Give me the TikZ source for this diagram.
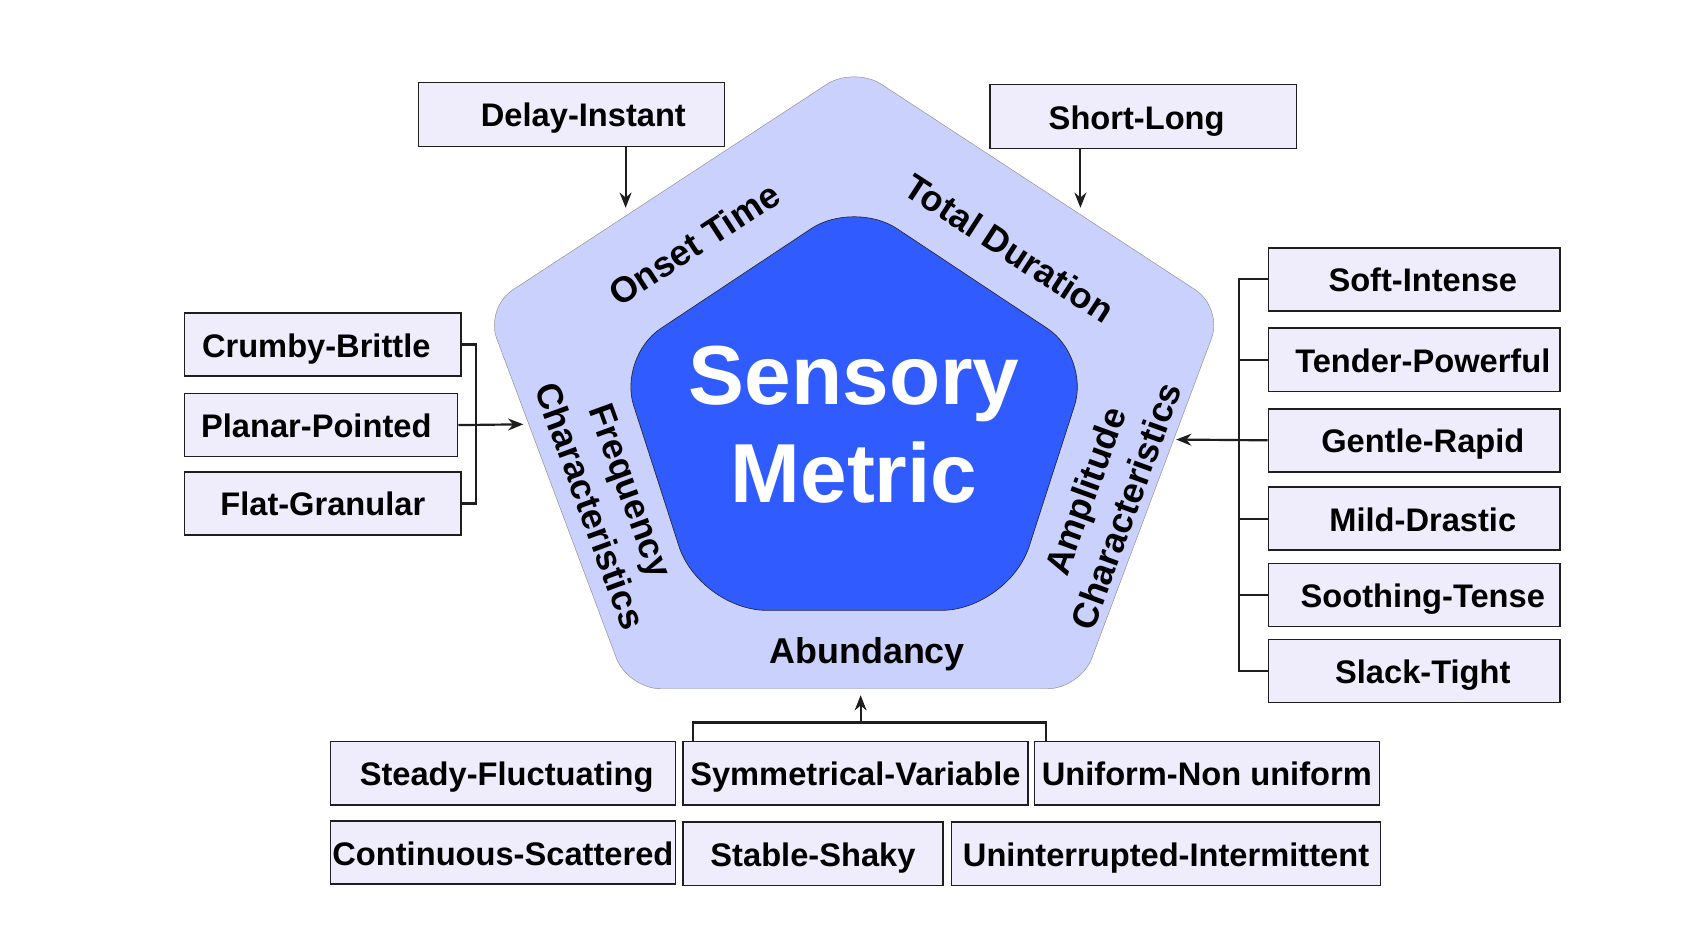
\documentclass[tikz,border=0pt]{standalone}
\usepackage{fontspec}
\setmainfont{Liberation Sans}
\usetikzlibrary{arrows.meta,calc}
\definecolor{outerc}{RGB}{202,209,252}
\definecolor{innerc}{RGB}{47,91,255}
\definecolor{boxc}{RGB}{239,237,252}
\definecolor{linec}{RGB}{30,30,30}
\tikzset{
  lbox/.style={draw=linec, line width=1.4pt, fill=boxc, minimum height=58pt, inner sep=0pt,
    text height=23pt, text depth=0pt,
    font=\fontsize{30}{34}\selectfont\bfseries, anchor=north west},
  conn/.style={line width=2pt, draw=linec},
  arr/.style={conn, -{Stealth[length=14pt,width=11pt]}},
  edgelbl/.style={font=\fontsize{33}{40}\selectfont\bfseries, align=center, inner sep=0pt},
  bigtxt/.style={font=\fontsize{77}{90}\selectfont\bfseries, text=white, inner sep=0pt, anchor=base},
}
\begin{document}
\begin{tikzpicture}[x=1pt,y=-1pt]
\useasboundingbox (0,0) rectangle (1568,864);
% pentagons
\filldraw[fill=outerc, draw=black!45, line width=0.4pt, rounded corners=30pt]
  (785,633) -- (993,633) -- (1124,283) -- (785,61) -- (446,283) -- (577,633) -- cycle;
\filldraw[fill=innerc, draw=black!85, line width=0.6pt, rounded corners=62pt]
  (785,561) -- (927,561) -- (964.5,444.5) [rounded corners=47pt] -- (1002,328)
  -- (785,184) -- (568,328) -- (605.5,444.5) [rounded corners=62pt] -- (643,561) -- cycle;
% central text
\node[bigtxt] (sens) at (785,372) {Sensory};
\node[bigtxt] (metr) at (785,462) {Metric};
% edge labels
\node[edgelbl, rotate=33] (onset) at (638,224) {Onset Time};
\node[edgelbl, rotate=-33] (total) at (928,228) {Total Duration};
\node[edgelbl, rotate=-70] (freq) at (561,458) {Frequency\\Characteristics};
\node[edgelbl, rotate=70] (ampl) at (1016,458) {Amplitude\\Characteristics};
\node[edgelbl, anchor=base] (abund) at (797,610) {Abundancy};
% top boxes
\node[lbox, minimum width=281pt, minimum height=59pt] (delay) at (384,75) {\hspace*{22pt}Delay-Instant};
\node[lbox, minimum width=282pt, minimum height=59pt] (short) at (909,77) {Short-Long\hspace*{12pt}};
% left boxes
\node[lbox, minimum width=254pt] (crumby) at (169,287) {Crumby-Brittle\hspace*{12pt}};
\node[lbox, minimum width=251pt] (planar) at (169,361) {Planar-Pointed\hspace*{9pt}};
\node[lbox, minimum width=254pt] (flat) at (169,433) {Flat-Granular};
% right boxes
\node[lbox, minimum width=268pt] (soft) at (1165,227) {\hspace*{16pt}Soft-Intense};
\node[lbox, minimum width=268pt] (tender) at (1165,301) {\hspace*{16pt}Tender-Powerful};
\node[lbox, minimum width=268pt] (gentle) at (1165,375) {\hspace*{16pt}Gentle-Rapid};
\node[lbox, minimum width=268pt] (mild) at (1165,447) {\hspace*{16pt}Mild-Drastic};
\node[lbox, minimum width=268pt] (sooth) at (1165,517) {\hspace*{16pt}Soothing-Tense};
\node[lbox, minimum width=268pt] (slack) at (1165,587) {\hspace*{16pt}Slack-Tight};
% bottom boxes
\node[lbox, minimum width=317pt] (steady) at (303,681) {\hspace*{7pt}Steady-Fluctuating};
\node[lbox, minimum width=317pt] (symm) at (627,681) {Symmetrical-Variable};
\node[lbox, minimum width=317pt] (unif) at (950,681) {Uniform-Non uniform};
\node[lbox, minimum width=317pt] (cont) at (303,754) {Continuous-Scattered};
\node[lbox, minimum width=239pt] (stable) at (627,755) {Stable-Shaky};
\node[lbox, minimum width=394pt] (unint) at (874,755) {Uninterrupted-Intermittent};
% connector end points
\coordinate (ontip) at (575,191);
\coordinate (sdtip) at (993,191);
\coordinate (frtip) at (481,390);
\coordinate (amtip) at (1081,404);
\coordinate (abtip) at (791,639);
\coordinate (botjoin) at (791,664);
% top arrows
\draw[arr] (delay.south -| ontip) -- (ontip);
\draw[arr] (short.south -| sdtip) -- (sdtip);
% left bracket
\draw[conn] (crumby.east) -- ++(13,0) |- (flat.east);
\draw[arr] (planar.east) -- (frtip);
% right bracket
\draw[conn] (soft.west) -- ++(-26,0) |- (slack.west);
\draw[conn] (tender.west) -- ++(-26,0);
\draw[conn] (mild.west) -- ++(-26,0);
\draw[conn] (sooth.west) -- ++(-26,0);
\draw[arr] (gentle.west) -- (amtip);
% bottom bracket
\draw[conn] ([xshift=10pt]symm.north west) |- (botjoin) -| ([xshift=11pt]unif.north west);
\draw[arr] (botjoin) -- (abtip);
\end{tikzpicture}
\end{document}
